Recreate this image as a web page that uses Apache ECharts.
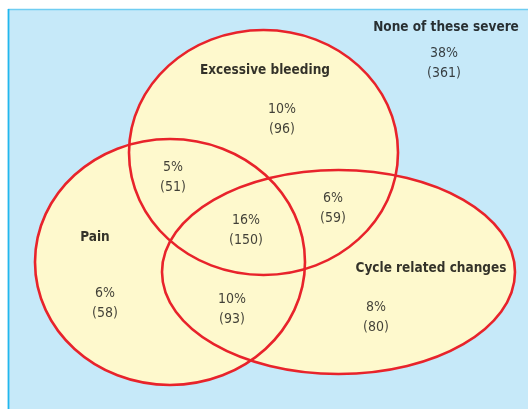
<!DOCTYPE html>
<html>
<head>
<meta charset="utf-8">
<script src="https://cdn.jsdelivr.net/npm/echarts@6/dist/echarts.min.js"></script>
<style>
  html, body { margin: 0; padding: 0; background: #fff; }
  #chart { width: 528px; height: 409px; }
</style>
</head>
<body>
<div id="chart"></div>
<script>
  // sets (ellipses, in plot units)
  const setNames = ['Excessive bleeding', 'Pain', 'Cycle related changes'];
  const setCx = [263.5, 170, 338.5];
  const setCy = [152.5, 262, 272];
  const setRx = [134.5, 135, 176.5];
  const setRy = [122.5, 123, 102];
  const setLabelX = [265, 95, 431];
  const setLabelY = [70, 237, 268];

  // regions
  const regionPct = ['10%', '5%', '6%', '16%', '6%', '10%', '8%'];
  const regionCount = [96, 51, 59, 150, 58, 93, 80];
  const regionX = [282, 173, 333, 246, 105, 232, 376];
  const regionY = [119, 177, 208, 230, 303, 309, 317];

  const noneName = 'None of these severe';
  const nonePct = '38%';
  const noneCount = 361;

  const FONT = "'Liberation Sans Narrow', 'DejaVu Sans Condensed', 'Arial Narrow', sans-serif";

  const chart = echarts.init(document.getElementById('chart'));

  const ellipseData = setNames.map((n, i) => [setCx[i], setCy[i], setRx[i], setRy[i]]);

  function ellipseItem(fill, stroke) {
    return function (params, api) {
      const c = api.coord([api.value(0), api.value(1)]);
      const s = api.size([api.value(2), api.value(3)]);
      return {
        type: 'ellipse',
        shape: { cx: c[0], cy: c[1], rx: s[0], ry: s[1] },
        style: { fill: fill, stroke: stroke, lineWidth: 2.6 }
      };
    };
  }

  chart.setOption({
    animation: false,
    backgroundColor: '#fff',
    grid: { left: 0, right: 0, top: 0, bottom: 0 },
    xAxis: { type: 'value', min: 0, max: 528, show: false },
    yAxis: { type: 'value', min: 0, max: 409, inverse: true, show: false },
    graphic: [
      {
        type: 'rect', z: -10,
        shape: { x: 8, y: 9, width: 530, height: 410 },
        style: { fill: '#c6e9f9', stroke: null }
      },
      {
        type: 'line', z: -9,
        shape: { x1: 8, y1: 9.5, x2: 528, y2: 9.5 },
        style: { stroke: '#6fcdf2', lineWidth: 1.5 }
      },
      {
        type: 'line', z: -9,
        shape: { x1: 8.5, y1: 9, x2: 8.5, y2: 409 },
        style: { stroke: '#22b7ee', lineWidth: 1.8 }
      }
    ],
    series: [
      {
        type: 'custom',
        renderItem: ellipseItem('#fef9cd', null),
        data: ellipseData,
        silent: true
      },
      {
        type: 'custom',
        renderItem: ellipseItem(null, '#e8232b'),
        data: ellipseData,
        silent: true,
        z: 3
      },
      {
        type: 'scatter',
        symbolSize: 0,
        z: 5,
        data: regionPct.map((p, i) => ({ value: [regionX[i], regionY[i]], pct: p, n: regionCount[i] }))
          .concat([{ value: [444, 63], pct: nonePct, n: noneCount }]),
        label: {
          show: true,
          position: 'inside',
          fontFamily: FONT,
          fontSize: 14,
          lineHeight: 20,
          color: '#111',
          textBorderWidth: 0,
          align: 'center',
          formatter: (p) => p.data.pct + '\n(' + p.data.n + ')'
        }
      },
      {
        type: 'scatter',
        symbolSize: 0,
        z: 5,
        data: setNames.map((n, i) => ({ value: [setLabelX[i], setLabelY[i]], name: n }))
          .concat([{ value: [446, 27.5], name: noneName }]),
        label: {
          show: true,
          position: 'inside',
          fontFamily: FONT,
          fontWeight: 'bold',
          fontSize: 13.5,
          color: '#000',
          textBorderWidth: 0,
          formatter: (p) => p.name
        }
      }
    ]
  });
</script>
</body>
</html>
